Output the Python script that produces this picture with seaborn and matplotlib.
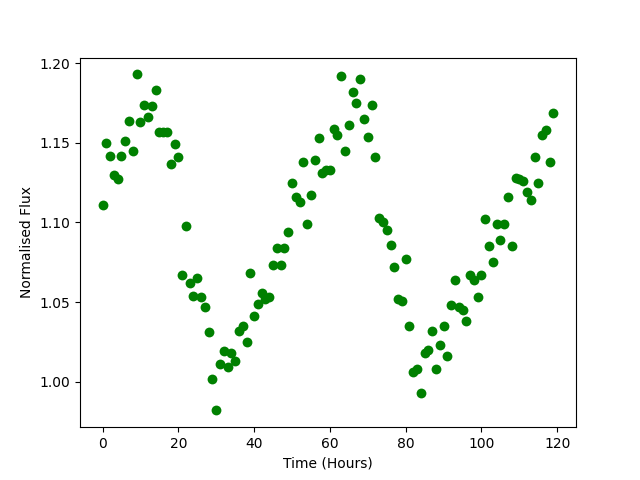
import numpy as np
import pandas as pd
import matplotlib
matplotlib.use("Agg")
import matplotlib.pyplot as plt
import seaborn as sns

hours = list(range(120))
flux = [
    1.111, 1.150, 1.142, 1.130, 1.127, 1.142, 1.151, 1.164, 1.145, 1.193,
    1.163, 1.174, 1.166, 1.173, 1.183, 1.157, 1.157, 1.157, 1.137, 1.149,
    1.141, 1.067, 1.098, 1.062, 1.054, 1.065, 1.053, 1.047, 1.031, 1.002,
    0.982, 1.011, 1.019, 1.009, 1.018, 1.013, 1.032, 1.035, 1.025, 1.068,
    1.041, 1.049, 1.056, 1.052, 1.053, 1.073, 1.084, 1.073, 1.084, 1.094,
    1.125, 1.116, 1.113, 1.138, 1.099, 1.117, 1.139, 1.153, 1.131, 1.133,
    1.133, 1.159, 1.155, 1.192, 1.145, 1.161, 1.182, 1.175, 1.190, 1.165,
    1.154, 1.174, 1.141, 1.103, 1.100, 1.095, 1.086, 1.072, 1.052, 1.051,
    1.077, 1.035, 1.006, 1.008, 0.993, 1.018, 1.020, 1.032, 1.008, 1.023,
    1.035, 1.016, 1.048, 1.064, 1.047, 1.045, 1.038, 1.067, 1.064, 1.053,
    1.067, 1.102, 1.085, 1.075, 1.099, 1.089, 1.099, 1.116, 1.085, 1.128,
    1.127, 1.126, 1.119, 1.114, 1.141, 1.125, 1.155, 1.158, 1.138, 1.169,
]

df = pd.DataFrame({"Time (Hours)": hours, "Normalised Flux": flux})

fig, ax = plt.subplots(figsize=(6.4, 4.8), dpi=100)
sns.scatterplot(data=df, x="Time (Hours)", y="Normalised Flux", ax=ax,
                color="green", s=50, linewidth=0)
ax.set_xlabel("Time (Hours)")
ax.set_ylabel("Normalised Flux")
fig.savefig("out.png", dpi=100)
